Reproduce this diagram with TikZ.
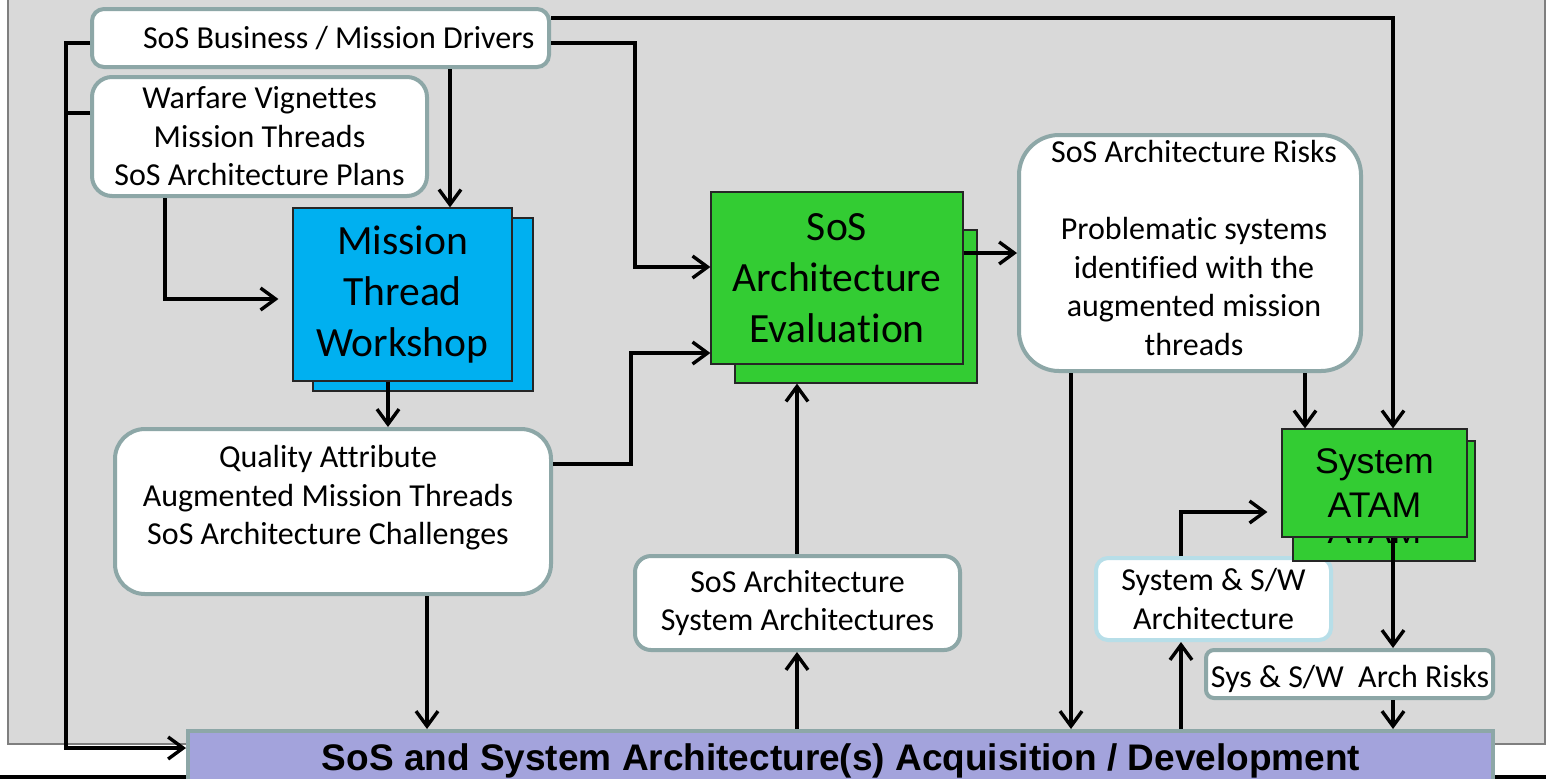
\documentclass[tikz,border=0pt]{standalone}
\usepackage{fontspec}
\setmainfont{Carlito}[Ligatures={NoCommon}]
\newfontfamily\arialf{Liberation Sans}
\usetikzlibrary{arrows.meta}
\newcommand\fsnorm{\fontsize{16}{19.25}\selectfont}
\newcommand\fsbig{\fontsize{20.8}{25.5}\selectfont}
\newcommand\fsatam{\arialf\fontsize{17.8}{22}\selectfont}
\newcommand\fsbar{\arialf\bfseries\fontsize{18.5}{22}\selectfont}
\definecolor{bggray}{HTML}{D9D9D9}
\definecolor{bgedge}{HTML}{7F7F7F}
\definecolor{boxedge}{HTML}{8DA7A7}
\definecolor{cyanedge}{HTML}{B7DEE8}
\definecolor{mtwblue}{HTML}{00B0F0}
\definecolor{evalgreen}{HTML}{33CC33}
\definecolor{barpurple}{HTML}{A3A3DC}
\tikzset{
  rbox/.style={draw=boxedge, line width=2pt, fill=white, inner sep=0pt, align=center, font=\fsnorm},
  sqbox/.style={draw=black!85, line width=0.6pt, inner sep=0pt, align=center, font=\fsbig},
  conn/.style={line width=1.7pt, draw=black},
  arr/.style={conn, -{Straight Barb[length=7.5pt,width=11pt]}},
  txt/.style={font=\fsnorm, align=center, inner sep=0pt},
}
\begin{document}
\begin{tikzpicture}[x=0.5pt,y=-0.5pt]
\useasboundingbox (0,0) rectangle (1546,778);
% background
\fill[bggray] (8,-10) rectangle (1545,744);
\draw[bgedge, line width=1pt] (8,-10) -- (8,744) -- (1545,744) -- (1545,-10);
\draw[black, line width=2pt] (0,777) -- (1546,777);

% boxes
\node[rbox, rounded corners=6pt, minimum width=228.5pt, minimum height=29pt] (drv) at (320.5,38) {};
\node[txt, anchor=east] (drvt) at (535,38) {SoS Business / Mission Drivers};
\node[rbox, rounded corners=10pt, minimum width=167.5pt, minimum height=59.5pt] (war) at (259.5,136.5) {Warfare Vignettes\\Mission Threads\\SoS Architecture Plans};

\node[sqbox, fill=mtwblue, minimum width=110pt, minimum height=86.5pt] (mtwb) at (423,304.5) {};
\node[sqbox, fill=mtwblue, minimum width=109.5pt, minimum height=86.5pt] (mtw) at (402.5,294.5) {Mission\\Thread\\Workshop};

\node[sqbox, fill=evalgreen, minimum width=121pt, minimum height=76.5pt] (saeb) at (856,306.5) {};
\node[sqbox, fill=evalgreen, minimum width=126pt, minimum height=86pt] (sae) at (837,278) {SoS\\Architecture\\Evaluation};

\node[rbox, rounded corners=20pt, minimum width=171pt, minimum height=118pt] (risk) at (1190,253) {};
\node[txt] (riskt) at (1194,248) {SoS Architecture Risks\\[19.25pt]Problematic systems\\identified with the\\augmented mission\\threads};

\node[rbox, rounded corners=15pt, minimum width=218pt, minimum height=82.5pt] (qa) at (333,511.5) {};
\node[txt] (qat) at (328,498) {Quality Attribute\\Augmented Mission Threads\\SoS Architecture Challenges};

\node[rbox, rounded corners=8pt, minimum width=162.5pt, minimum height=47pt] (sosa) at (797.5,603) {SoS Architecture\\System Architectures};

\node[rbox, draw=cyanedge, rounded corners=6pt, minimum width=117.5pt, minimum height=41pt] (sysw) at (1213.5,599) {System \& S/W\\Architecture};

\node[rbox, rounded corners=4pt, minimum width=143.5pt, minimum height=24pt] (sysr) at (1349.5,674) {};
\node[txt] (sysrt) at (1350,679) {Sys \& S/W\ \ Arch Risks};

\node[sqbox, fill=evalgreen, minimum width=91pt, minimum height=60pt] (atamb) at (1384,501) {};
\node[font=\fsatam, anchor=base, inner sep=0pt] (atambt) at (1374.5,543) {ATAM};
\node[sqbox, font=\fsatam, fill=evalgreen, minimum width=92.5pt, minimum height=54pt] (atam) at (1374.5,483) {System\\ATAM};

\node[draw=boxedge, line width=2pt, fill=barpurple, inner sep=0pt, minimum width=652.5pt, minimum height=27pt] (bar) at (840.5,758) {};
\node[font=\fsbar, anchor=base, inner sep=0pt] (bart) at (841,770) {SoS and System Architecture(s) Acquisition / Development};

% connectors
\draw[conn] (war.west |- 0,113) -- (66,113);
\draw[arr] (drv.west |- 0,43) -- (66,43) -- (66,748) -- (bar.west |- 0,748);
\draw[arr] (450,0 |- drv.south) -- (450,0 |- mtw.north);
\draw[arr] (drv.east |- 0,43) -- (635,43) -- (635,267) -- (sae.west |- 0,267);
\draw[arr] (drv.east |- 0,18) -- (1393,18) -- (1393,0 |- atam.north);
\draw[arr, shorten >=7pt] (165,0 |- war.south) -- (165,299) -- (mtw.west |- 0,299);
\draw[arr] (388,0 |- mtw.south) -- (388,0 |- qa.north);
\draw[arr] (qa.east |- 0,464) -- (631,464) -- (631,353) -- (sae.west |- 0,353);
\draw[arr] (sae.east |- 0,253) -- (risk.west |- 0,253);
\draw[arr] (1071,0 |- risk.south) -- (1071,0 |- bar.north);
\draw[arr] (1305,0 |- risk.south) -- (1305,0 |- atam.north);
\draw[arr] (427,0 |- qa.south) -- (427,0 |- bar.north);
\draw[arr] (797,0 |- bar.north) -- (797,0 |- sosa.south);
\draw[arr] (797,0 |- sosa.north) -- (797,0 |- saeb.south);
\draw[arr] (1181,0 |- bar.north) -- (1181,0 |- sysw.south);
\draw[arr, shorten >=7pt] (1181,0 |- sysw.north) -- (1181,512) -- (atam.west |- 0,512);
\draw[arr] (1393,0 |- atam.south) -- (1393,0 |- sysr.north);
\draw[arr] (1393,0 |- sysr.south) -- (1393,0 |- bar.north);
\end{tikzpicture}
\end{document}
